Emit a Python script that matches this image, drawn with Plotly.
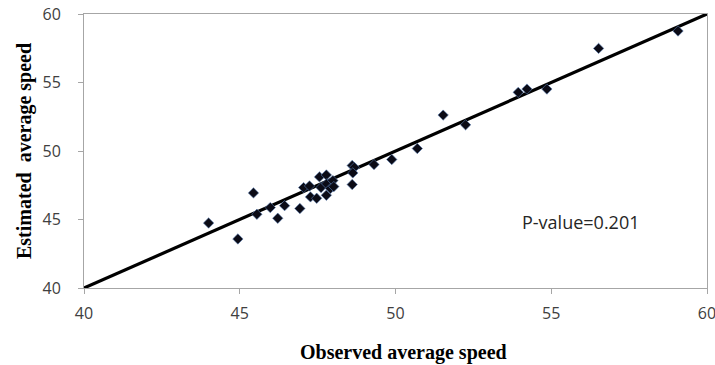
import plotly.graph_objects as go

observed = [44.0, 44.94, 45.44, 45.55, 45.98, 46.22, 46.44, 46.93, 47.05, 47.24, 47.27,
            47.47, 47.56, 47.61, 47.78, 47.79, 47.78, 47.91, 47.99, 48.02, 48.61, 48.68,
            48.63, 48.61, 49.31, 49.88, 50.70, 51.53, 52.25, 53.94, 54.22, 54.86, 56.52, 59.07]
estimated = [44.74, 43.58, 46.94, 45.38, 45.87, 45.09, 46.01, 45.80, 47.33, 47.45, 46.65,
             46.55, 48.11, 47.33, 48.25, 47.60, 46.77, 47.26, 47.84, 47.40, 48.94, 48.80,
             48.40, 47.55, 49.01, 49.38, 50.18, 52.62, 51.91, 54.28, 54.52, 54.52, 57.49, 58.76]
line_x = [40, 60]
line_y = [40, 60]
ticks = [40, 45, 50, 55, 60]

fig = go.Figure()
fig.add_trace(go.Scatter(x=line_x, y=line_y, mode="lines", cliponaxis=False,
                         line=dict(color="black", width=3.2), showlegend=False))
fig.add_trace(go.Scatter(x=observed, y=estimated, mode="markers",
                         marker=dict(symbol="diamond", size=8, color="#0b0b16",
                                     line=dict(color="#5a7fb5", width=0.6)),
                         showlegend=False))

fig.add_annotation(x=53.99, y=44.82, xref="x", yref="y", text="P-value=0.201",
                   showarrow=False, xanchor="left", yanchor="middle",
                   font=dict(family="Open Sans", size=18, color="#262626"))

title_font = dict(family="Liberation Serif", size=20, color="black", weight="bold")
fig.add_annotation(x=50.25, y=0, xref="x", yref="paper", yshift=-64,
                   text="Observed average speed", showarrow=False,
                   xanchor="center", yanchor="middle", font=title_font)
fig.add_annotation(x=0, y=0.5, xref="paper", yref="paper", xshift=-60,
                   text="Estimated  average speed", showarrow=False, textangle=-90,
                   xanchor="center", yanchor="middle", font=title_font)

axis_common = dict(range=[40, 60], tickvals=ticks, showgrid=False, zeroline=False,
                   showline=True, linecolor="#a6a6a6", linewidth=1, mirror=True,
                   ticks="outside", ticklen=5, tickcolor="#a6a6a6", automargin=False,
                   ticklabeloverflow="allow",
                   tickfont=dict(family="Open Sans", size=16, color="#404040"))

fig.update_xaxes(**axis_common, ticklabelstandoff=6)
fig.update_yaxes(**axis_common, ticklabelstandoff=14)

fig.update_layout(width=715, height=365, margin=dict(l=84, r=8, t=14, b=77),
                  plot_bgcolor="white", paper_bgcolor="white")
# remove the browser's default body margin so the figure fills the window exactly
fig.write_html("out.html", config={"displayModeBar": False},
               post_script="document.body.style.margin='0';")
